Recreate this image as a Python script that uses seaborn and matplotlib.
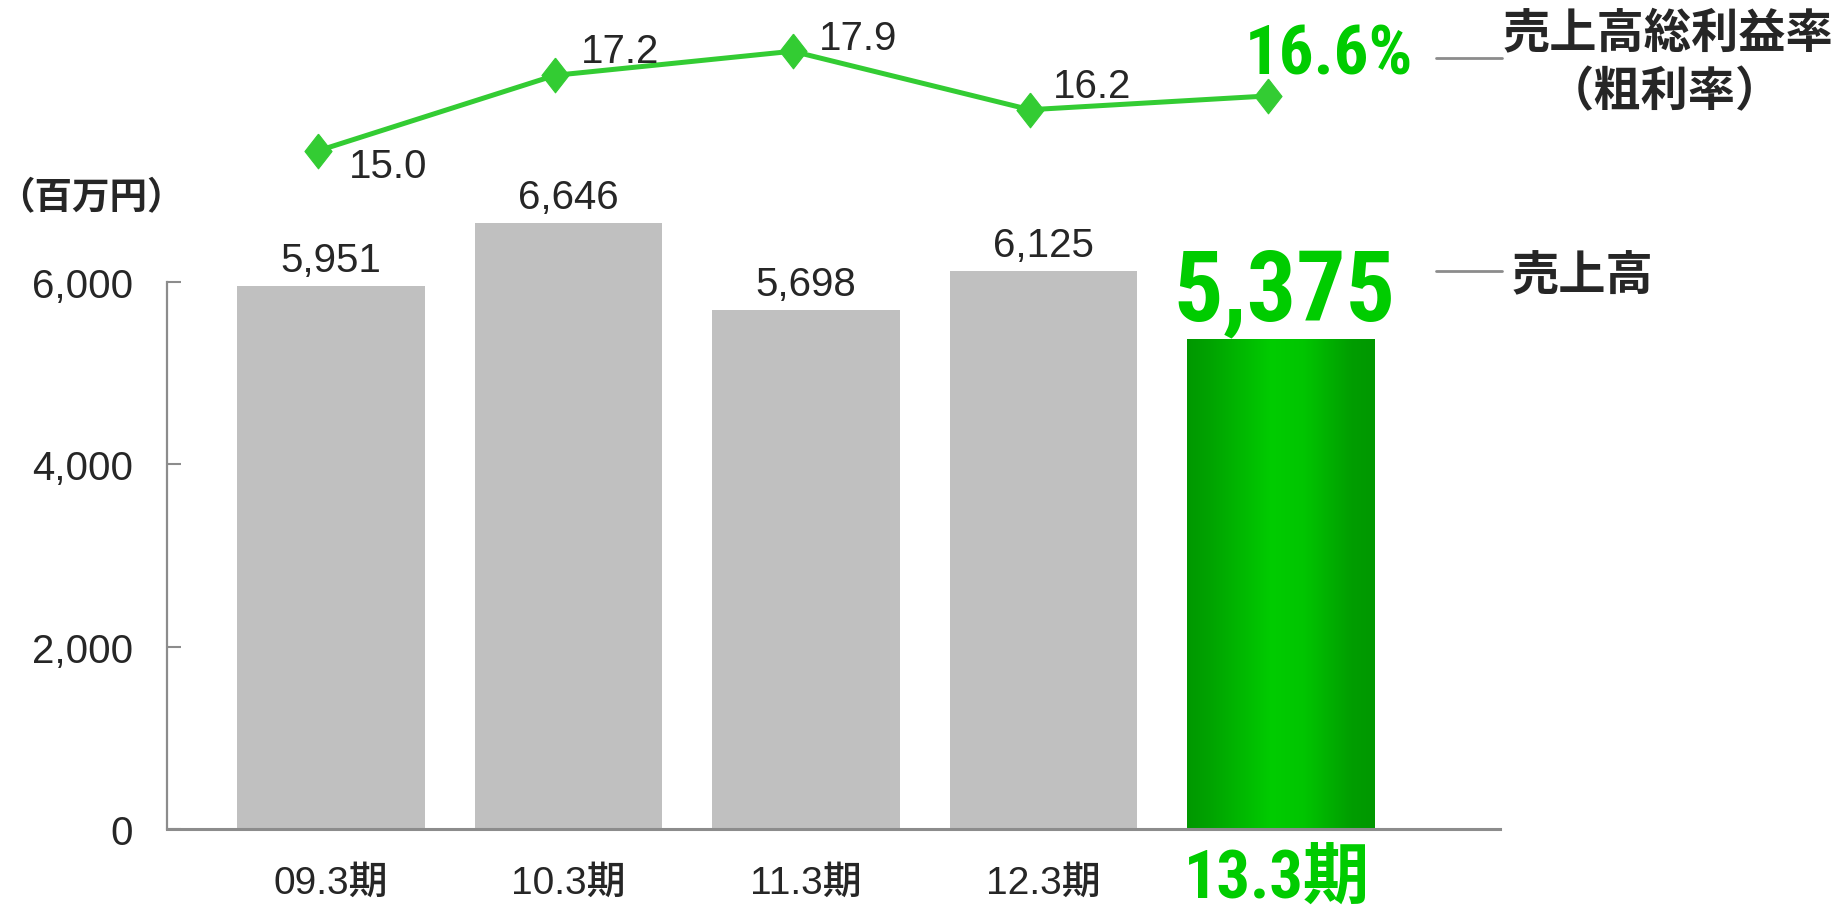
import os
import numpy as np
import pandas as pd
import matplotlib
matplotlib.use("Agg")
import matplotlib.pyplot as plt
from matplotlib import font_manager
from matplotlib.colors import LinearSegmentedColormap
from matplotlib.lines import Line2D
import seaborn as sns

# ---- data -------------------------------------------------------------
periods = ["09.3期", "10.3期", "11.3期", "12.3期", "13.3期"]
sales = [5951, 6646, 5698, 6125, 5375]            # 売上高（百万円）
gross_margin = [15.0, 17.2, 17.9, 16.2, 16.6]     # 売上高総利益率（%）
sales_labels = ["5,951", "6,646", "5,698", "6,125", "5,375"]
margin_labels = ["15.0", "17.2", "17.9", "16.2", "16.6%"]
y_ticks = [0, 2000, 4000, 6000]
y_tick_labels = ["0", "2,000", "4,000", "6,000"]

# ---- canvas / fonts ---------------------------------------------------
W, H, DPI = 1841, 912, 100
sns.set_theme(style="white")

ttf = font_manager.fontManager.ttflist
names = {f.name for f in ttf}
LATIN = "Liberation Sans" if "Liberation Sans" in names else "DejaVu Sans"
CJK = "Noto Sans CJK JP"
plt.rcParams["font.family"] = [LATIN, CJK, "DejaVu Sans"]
CJK_FAM = [CJK, "DejaVu Sans"]


def _weight(f):
    w = f.weight
    return font_manager.weight_dict.get(w, w) if isinstance(w, str) else w


# a condensed bold face for the highlighted figures, if one is installed
pref = ["liberationsansnarrow", "arialnarrow", "arialn", "robotocondensed",
        "notosans-condensed", "opensans-condensed", "opensans_condensed",
        "dejavusanscondensed"]
cands = []
for f in ttf:
    base = os.path.basename(f.fname).lower().replace(" ", "")
    if ("narrow" in base or "condensed" in base) and _weight(f) >= 600 \
            and "italic" not in base and "oblique" not in base:
        rank = next((i for i, k in enumerate(pref) if k in base), len(pref))
        cands.append((rank, abs(_weight(f) - 700), f))
if cands:
    cands.sort(key=lambda t: (t[0], t[1]))
    nf = cands[0][2]
    HILITE = dict(family=[nf.name, CJK, "DejaVu Sans"], fontweight=nf.weight,
                  fontstretch=nf.stretch)
else:
    HILITE = dict(family=[LATIN, CJK, "DejaVu Sans"], fontweight="bold")

TEXT = "#262626"
GREEN_TXT = "#00cc00"
LINE_GREEN = "#33cc33"
GRAY_BAR = "#c0c0c0"
AXIS_GRAY = "#8c8c8c"

fig = plt.figure(figsize=(W / DPI, H / DPI), dpi=DPI)


def fx(px):
    return px / W


def fy(py):
    return 1 - py / H


# ---- bar axes ---------------------------------------------------------
ax_left, ax_right = 167, 1500
base_y = 830
px_per_unit = 547 / 6000
ymax = 7500
ax_top = base_y - ymax * px_per_unit
slot = 237.5
first_center = 331
xlim = ((ax_left - first_center) / slot, (ax_right - first_center) / slot)

ax = fig.add_axes([fx(ax_left), fy(base_y), fx(ax_right - ax_left), (base_y - ax_top) / H])
df = pd.DataFrame({"period": periods, "sales": sales})
palette = {p: GRAY_BAR for p in periods}
palette[periods[-1]] = "#00cc00"
sns.barplot(data=df, x="period", y="sales", hue="period", palette=palette,
            width=0.79, saturation=1, legend=False, linewidth=0, ax=ax)

# gradient fill for the current-period bar
bar = max(ax.patches, key=lambda p: p.get_x())
bx, bw, bh = bar.get_x(), bar.get_width(), bar.get_height()
cmap = LinearSegmentedColormap.from_list(
    "bar_green",
    [(0.0, "#009800"), (0.12, "#00a300"), (0.45, "#00cc00"),
     (0.62, "#00c500"), (0.88, "#009d00"), (1.0, "#009800")])
im = ax.imshow(np.linspace(0, 1, 256)[None, :], cmap=cmap, aspect="auto",
               extent=(bx, bx + bw, 0, bh), interpolation="bicubic",
               zorder=bar.get_zorder() + 0.1)
im.set_clip_path(bar)

ax.set_xlim(*xlim)
ax.set_ylim(0, ymax)
ax.set_xlabel("")
ax.set_ylabel("")
ax.set_yticks(y_ticks, y_tick_labels)
ax.set_xticks(range(len(periods)), periods[:-1] + [""])
for s in ("top", "right"):
    ax.spines[s].set_visible(False)
ax.spines["left"].set_color(AXIS_GRAY)
ax.spines["left"].set_linewidth(1.6)
ax.spines["left"].set_bounds(0, y_ticks[-1])
ax.spines["bottom"].set_color(AXIS_GRAY)
ax.spines["bottom"].set_linewidth(2.2)
ax.tick_params(axis="y", direction="in", length=10, width=1.5, color=AXIS_GRAY,
               labelsize=29, labelcolor=TEXT, pad=24.5, left=True)
ax.tick_params(axis="x", length=0, labelsize=28, labelcolor=TEXT, pad=26)
for lab in ax.get_xticklabels():
    lab.set_fontweight("medium")

# current period name, highlighted under its bar
cur_label = ax.annotate(periods[-1], (len(periods) - 1, 0), xytext=(-4, -69),
                        textcoords="offset pixels", ha="center", va="baseline",
                        color=GREEN_TXT, fontsize=48, annotation_clip=False, **HILITE)

# sales value labels
big_sales = None
for i, (v, lab) in enumerate(zip(sales, sales_labels)):
    if i == len(sales) - 1:
        big_sales = ax.annotate(lab, (i, v), xytext=(3, 20), textcoords="offset pixels",
                                ha="center", va="baseline", color=GREEN_TXT,
                                fontsize=64, **HILITE)
    else:
        ax.annotate(lab, (i, v), xytext=(0, 15), textcoords="offset pixels",
                    ha="center", va="baseline", color=TEXT, fontsize=29)

# ---- gross margin line ------------------------------------------------
line_bottom = 200
m_px = 34.4
ax2 = fig.add_axes([fx(ax_left), fy(line_bottom), fx(ax_right - ax_left), line_bottom / H])
ax2.set_xlim(*xlim)
ax2.set_ylim(15.0 - (line_bottom - 152) / m_px, 15.0 + 152 / m_px)
ax2.axis("off")
xs = np.arange(len(gross_margin)) - 13.5 / slot
diamond = [(0, 1), (0.78, 0), (0, -1), (-0.78, 0), (0, 1)]
sns.lineplot(x=xs, y=gross_margin, ax=ax2, color=LINE_GREEN, linewidth=3.6,
             marker=diamond, markersize=25, markeredgewidth=0.8,
             markeredgecolor=LINE_GREEN, markerfacecolor=LINE_GREEN)

label_offsets = [(31, -26), (26, 13), (26, 2), (23, 13), (-23, 22)]
big_margin = None
for i, (x, v, lab) in enumerate(zip(xs, gross_margin, margin_labels)):
    dx, dy = label_offsets[i]
    if i == len(gross_margin) - 1:
        big_margin = ax2.annotate(lab, (x, v), xytext=(dx, dy), textcoords="offset pixels",
                                  ha="left", va="baseline", color=GREEN_TXT,
                                  fontsize=44, annotation_clip=False, **HILITE)
    else:
        ax2.annotate(lab, (x, v), xytext=(dx, dy), textcoords="offset pixels",
                     ha="left", va="baseline", color=TEXT, fontsize=29,
                     annotation_clip=False)

# size the highlighted figures to their set widths (pixels)
renderer = fig.canvas.get_renderer()
for txt, target_w in ((big_sales, 222), (big_margin, 168), (cur_label, 186)):
    w = txt.get_window_extent(renderer).width
    txt.set_fontsize(txt.get_fontsize() * target_w / w)

# ---- unit label and series names --------------------------------------
fig.text(fx(91), fy(198), "（百万円）", ha="center", va="center",
         family=CJK_FAM, fontweight="bold", fontsize=27, color=TEXT)

fig.text(fx(1668), fy(34), "売上高総利益率", ha="center", va="center",
         family=CJK_FAM, fontweight="bold", fontsize=34, color=TEXT)
fig.text(fx(1665), fy(92), "（粗利率）", ha="center", va="center",
         family=CJK_FAM, fontweight="bold", fontsize=34, color=TEXT)
fig.text(fx(1512), fy(276), "売上高", ha="left", va="center",
         family=CJK_FAM, fontweight="bold", fontsize=34, color=TEXT)

for yy in (59, 272):
    fig.add_artist(Line2D([fx(1436), fx(1502)], [fy(yy), fy(yy)],
                          color=AXIS_GRAY, linewidth=2, transform=fig.transFigure))

fig.savefig("out.png", dpi=DPI)
